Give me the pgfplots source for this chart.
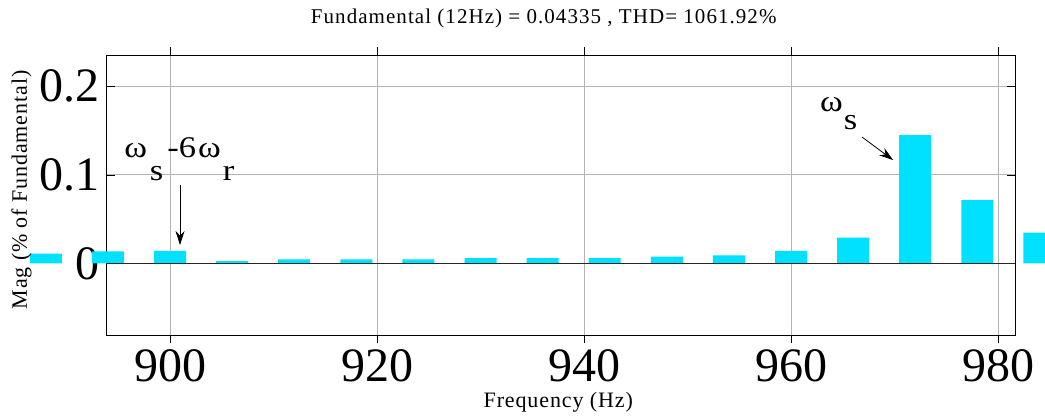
\documentclass[border=0pt]{standalone}
\usepackage{fontspec}
\setmainfont{Liberation Serif}
\usepackage{pgfplots}
\pgfplotsset{compat=1.18}
\usetikzlibrary{arrows.meta}
\definecolor{barcyan}{RGB}{0,225,255}
\definecolor{gridgray}{RGB}{180,180,180}
\begin{document}
\begin{tikzpicture}[x=1pt,y=1pt]
\begin{axis}[
  at={(0pt,0pt)}, anchor=south west,
  width=908pt, height=280pt, scale only axis,
  xmin=893.91, xmax=981.64, ymin=-0.081, ymax=0.2354,
  xtick={900,920,940,960,980}, ytick={0,0.1,0.2},
  grid=major, grid style={gridgray, line width=1pt},
  tick align=inside, major tick length=8pt,
  tick style={black, line width=0.6pt},
  axis line style={black, line width=1pt},
  /pgf/number format/assume math mode=true,
  xticklabel style={font=\fontsize{48}{48}\selectfont, inner sep=0pt, anchor=north, yshift=-6pt},
  yticklabel style={font=\fontsize{48}{48}\selectfont, inner sep=0pt, anchor=east, xshift=-7pt},
  title={Fundamental (12Hz) = 0.04335 , THD= 1061.92\%},
  title style={at={(axis description cs:0.481,1)}, anchor=base, yshift=26pt, inner sep=0pt,
    font=\fontsize{21}{21}\selectfont\addfontfeatures{LetterSpace=5}},
  xlabel={Frequency (Hz)},
  xlabel style={at={(axis description cs:0.497,0)}, anchor=base, yshift=-72pt, inner sep=0pt,
    font=\fontsize{22}{22}\selectfont\addfontfeatures{LetterSpace=4}},
  ylabel={Mag (\% of Fundamental)},
  ylabel style={at={(axis description cs:-0.0881,0.518)}, anchor=base, rotate=0, inner sep=0pt,
    font=\fontsize{22}{22}\selectfont\addfontfeatures{LetterSpace=4}},
  clip=false,
  ybar, bar width=32pt,
]
\addplot[fill=barcyan, draw=none] coordinates {
  (888,0.011) (894,0.0135) (900,0.014) (906,0.0025) (912,0.0045) (918,0.0045)
  (924,0.0045) (930,0.006) (936,0.006) (942,0.006) (948,0.0075) (954,0.009)
  (960,0.0142) (966,0.029) (972,0.145) (978,0.0715) (984,0.0346)
};
\draw[black!85, line width=1.5pt] (axis cs:893.91,0) -- (axis cs:981.64,0);
\draw[black, line width=0.8pt, -{Stealth[length=14pt,width=9pt]}] (axis cs:900.966,0.0885) -- (axis cs:900.966,0.0207);
\draw[black, line width=0.8pt, -{Stealth[length=14pt,width=9pt]}] (axis cs:966.86,0.1427) -- (axis cs:969.86,0.1167);
\node[anchor=base west, inner sep=0pt, font=\fontsize{30}{30}\selectfont\addfontfeatures{FakeStretch=1.15}] at (axis cs:895.56,0.1201)
  {ω\hspace{3pt}\raisebox{-23pt}{s}\hspace{4pt}-6\hspace{2pt}ω\hspace{2pt}\raisebox{-23pt}{r}};
\node[anchor=base west, inner sep=0pt, font=\fontsize{30}{30}\selectfont\addfontfeatures{FakeStretch=1.15}] at (axis cs:962.8,0.171)
  {ω\hspace{1pt}\raisebox{-18pt}{s}};
\end{axis}
\pgfresetboundingbox
\path[use as bounding box] (-107pt,-81pt) rectangle (938pt,335pt);
\end{tikzpicture}
\end{document}
